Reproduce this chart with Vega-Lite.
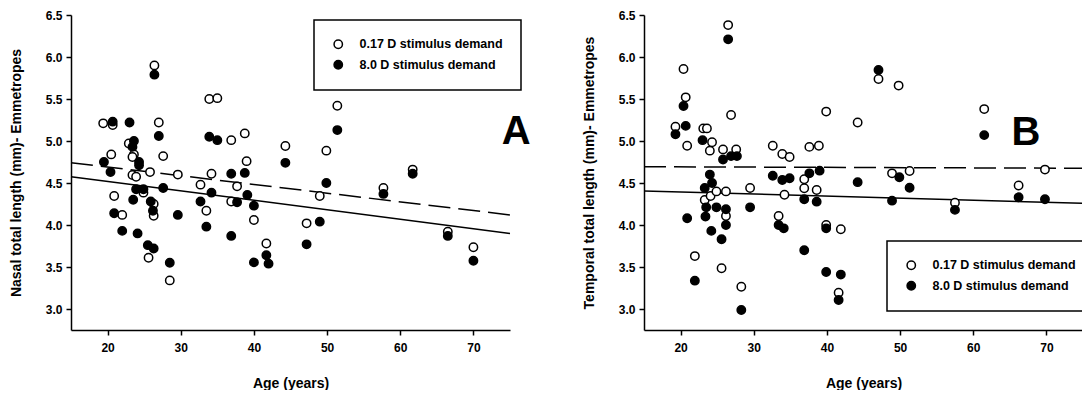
{
  "$schema": "https://vega.github.io/schema/vega-lite/v6.json",
  "background": "white",
  "padding": {"left": 9, "top": 9, "right": 0, "bottom": 0},
  "spacing": 51,
  "config": {
    "view": {"stroke": null},
    "font": "Liberation Sans",
    "axis": {
      "grid": false,
      "domainColor": "black", "domainWidth": 1.5,
      "tickColor": "black", "tickWidth": 1.5, "tickSize": 5,
      "labelFont": "Liberation Sans", "labelFontWeight": "bold", "labelFontSize": 12, "labelColor": "black",
      "titleFont": "Liberation Sans", "titleFontWeight": "bold", "titleFontSize": 14, "titleColor": "black"
    },
    "axisX": {"labelPadding": 7, "titlePadding": 23},
    "axisY": {"labelPadding": 4, "titlePadding": 22},
    "legend": {
      "strokeColor": "black", "strokeWidth": 1.5, "fillColor": "white", "padding": 18,
      "symbolType": "circle", "symbolSize": 70, "symbolStrokeColor": "black", "symbolStrokeWidth": 1.5,
      "labelFont": "Liberation Sans", "labelFontWeight": "bold", "labelFontSize": 12.5, "labelColor": "black",
      "labelOffset": 15, "rowPadding": 5.5, "labelLimit": 300
    }
  },
  "resolve": {"scale": {"fill": "independent"}, "legend": {"fill": "independent"}},
  "datasets": {
    "nasal": [
      {"age":19.4,"length":5.21,"demand":"0.17 D stimulus demand"},
      {"age":20.7,"length":5.19,"demand":"0.17 D stimulus demand"},
      {"age":20.5,"length":4.84,"demand":"0.17 D stimulus demand"},
      {"age":20.9,"length":4.345,"demand":"0.17 D stimulus demand"},
      {"age":22.0,"length":4.12,"demand":"0.17 D stimulus demand"},
      {"age":22.9,"length":4.97,"demand":"0.17 D stimulus demand"},
      {"age":23.6,"length":4.84,"demand":"0.17 D stimulus demand"},
      {"age":23.4,"length":4.81,"demand":"0.17 D stimulus demand"},
      {"age":23.4,"length":4.595,"demand":"0.17 D stimulus demand"},
      {"age":23.9,"length":4.575,"demand":"0.17 D stimulus demand"},
      {"age":24.9,"length":4.385,"demand":"0.17 D stimulus demand"},
      {"age":25.6,"length":3.61,"demand":"0.17 D stimulus demand"},
      {"age":25.8,"length":4.63,"demand":"0.17 D stimulus demand"},
      {"age":26.3,"length":4.25,"demand":"0.17 D stimulus demand"},
      {"age":26.3,"length":4.11,"demand":"0.17 D stimulus demand"},
      {"age":26.4,"length":5.90,"demand":"0.17 D stimulus demand"},
      {"age":27.0,"length":5.22,"demand":"0.17 D stimulus demand"},
      {"age":27.6,"length":4.82,"demand":"0.17 D stimulus demand"},
      {"age":28.5,"length":3.34,"demand":"0.17 D stimulus demand"},
      {"age":29.6,"length":4.60,"demand":"0.17 D stimulus demand"},
      {"age":32.7,"length":4.48,"demand":"0.17 D stimulus demand"},
      {"age":33.5,"length":4.17,"demand":"0.17 D stimulus demand"},
      {"age":33.9,"length":5.50,"demand":"0.17 D stimulus demand"},
      {"age":34.2,"length":4.61,"demand":"0.17 D stimulus demand"},
      {"age":35.0,"length":5.51,"demand":"0.17 D stimulus demand"},
      {"age":36.9,"length":5.01,"demand":"0.17 D stimulus demand"},
      {"age":36.9,"length":4.28,"demand":"0.17 D stimulus demand"},
      {"age":37.7,"length":4.46,"demand":"0.17 D stimulus demand"},
      {"age":38.75,"length":5.09,"demand":"0.17 D stimulus demand"},
      {"age":39.0,"length":4.76,"demand":"0.17 D stimulus demand"},
      {"age":40.0,"length":4.06,"demand":"0.17 D stimulus demand"},
      {"age":41.7,"length":3.78,"demand":"0.17 D stimulus demand"},
      {"age":44.3,"length":4.94,"demand":"0.17 D stimulus demand"},
      {"age":47.2,"length":4.02,"demand":"0.17 D stimulus demand"},
      {"age":49.0,"length":4.345,"demand":"0.17 D stimulus demand"},
      {"age":49.9,"length":4.885,"demand":"0.17 D stimulus demand"},
      {"age":51.4,"length":5.42,"demand":"0.17 D stimulus demand"},
      {"age":57.7,"length":4.44,"demand":"0.17 D stimulus demand"},
      {"age":61.7,"length":4.66,"demand":"0.17 D stimulus demand"},
      {"age":66.5,"length":3.92,"demand":"0.17 D stimulus demand"},
      {"age":70.0,"length":3.735,"demand":"0.17 D stimulus demand"},
      {"age":19.5,"length":4.75,"demand":"8.0 D stimulus demand"},
      {"age":20.4,"length":4.63,"demand":"8.0 D stimulus demand"},
      {"age":20.7,"length":5.23,"demand":"8.0 D stimulus demand"},
      {"age":20.9,"length":4.14,"demand":"8.0 D stimulus demand"},
      {"age":22.0,"length":3.93,"demand":"8.0 D stimulus demand"},
      {"age":23.0,"length":5.22,"demand":"8.0 D stimulus demand"},
      {"age":23.4,"length":4.93,"demand":"8.0 D stimulus demand"},
      {"age":23.5,"length":4.30,"demand":"8.0 D stimulus demand"},
      {"age":23.6,"length":5.0,"demand":"8.0 D stimulus demand"},
      {"age":23.9,"length":4.425,"demand":"8.0 D stimulus demand"},
      {"age":24.1,"length":3.90,"demand":"8.0 D stimulus demand"},
      {"age":24.3,"length":4.75,"demand":"8.0 D stimulus demand"},
      {"age":24.3,"length":4.71,"demand":"8.0 D stimulus demand"},
      {"age":24.9,"length":4.425,"demand":"8.0 D stimulus demand"},
      {"age":25.5,"length":3.76,"demand":"8.0 D stimulus demand"},
      {"age":25.9,"length":4.28,"demand":"8.0 D stimulus demand"},
      {"age":26.2,"length":4.17,"demand":"8.0 D stimulus demand"},
      {"age":26.3,"length":3.72,"demand":"8.0 D stimulus demand"},
      {"age":26.4,"length":5.79,"demand":"8.0 D stimulus demand"},
      {"age":27.0,"length":5.06,"demand":"8.0 D stimulus demand"},
      {"age":27.6,"length":4.44,"demand":"8.0 D stimulus demand"},
      {"age":28.5,"length":3.55,"demand":"8.0 D stimulus demand"},
      {"age":29.6,"length":4.12,"demand":"8.0 D stimulus demand"},
      {"age":32.7,"length":4.28,"demand":"8.0 D stimulus demand"},
      {"age":33.5,"length":3.98,"demand":"8.0 D stimulus demand"},
      {"age":33.9,"length":5.05,"demand":"8.0 D stimulus demand"},
      {"age":34.2,"length":4.385,"demand":"8.0 D stimulus demand"},
      {"age":35.0,"length":5.01,"demand":"8.0 D stimulus demand"},
      {"age":36.9,"length":4.61,"demand":"8.0 D stimulus demand"},
      {"age":36.9,"length":3.87,"demand":"8.0 D stimulus demand"},
      {"age":37.7,"length":4.27,"demand":"8.0 D stimulus demand"},
      {"age":38.75,"length":4.62,"demand":"8.0 D stimulus demand"},
      {"age":39.1,"length":4.357,"demand":"8.0 D stimulus demand"},
      {"age":40.0,"length":4.23,"demand":"8.0 D stimulus demand"},
      {"age":40.0,"length":3.555,"demand":"8.0 D stimulus demand"},
      {"age":41.7,"length":3.64,"demand":"8.0 D stimulus demand"},
      {"age":42.0,"length":3.54,"demand":"8.0 D stimulus demand"},
      {"age":44.3,"length":4.74,"demand":"8.0 D stimulus demand"},
      {"age":47.2,"length":3.77,"demand":"8.0 D stimulus demand"},
      {"age":49.0,"length":4.04,"demand":"8.0 D stimulus demand"},
      {"age":49.9,"length":4.50,"demand":"8.0 D stimulus demand"},
      {"age":51.4,"length":5.13,"demand":"8.0 D stimulus demand"},
      {"age":57.7,"length":4.37,"demand":"8.0 D stimulus demand"},
      {"age":61.7,"length":4.61,"demand":"8.0 D stimulus demand"},
      {"age":66.5,"length":3.87,"demand":"8.0 D stimulus demand"},
      {"age":70.0,"length":3.575,"demand":"8.0 D stimulus demand"}
    ],
    "temporal": [
      {"age":19.3,"length":5.17,"demand":"0.17 D stimulus demand"},
      {"age":20.4,"length":5.857,"demand":"0.17 D stimulus demand"},
      {"age":20.7,"length":5.52,"demand":"0.17 D stimulus demand"},
      {"age":20.9,"length":4.944,"demand":"0.17 D stimulus demand"},
      {"age":21.95,"length":3.63,"demand":"0.17 D stimulus demand"},
      {"age":23.1,"length":5.15,"demand":"0.17 D stimulus demand"},
      {"age":23.3,"length":4.298,"demand":"0.17 D stimulus demand"},
      {"age":23.6,"length":5.15,"demand":"0.17 D stimulus demand"},
      {"age":24.0,"length":4.885,"demand":"0.17 D stimulus demand"},
      {"age":24.1,"length":4.345,"demand":"0.17 D stimulus demand"},
      {"age":24.3,"length":4.985,"demand":"0.17 D stimulus demand"},
      {"age":24.9,"length":4.40,"demand":"0.17 D stimulus demand"},
      {"age":25.6,"length":3.485,"demand":"0.17 D stimulus demand"},
      {"age":25.8,"length":4.90,"demand":"0.17 D stimulus demand"},
      {"age":26.2,"length":4.40,"demand":"0.17 D stimulus demand"},
      {"age":26.2,"length":4.107,"demand":"0.17 D stimulus demand"},
      {"age":26.5,"length":6.38,"demand":"0.17 D stimulus demand"},
      {"age":26.9,"length":5.31,"demand":"0.17 D stimulus demand"},
      {"age":27.6,"length":4.90,"demand":"0.17 D stimulus demand"},
      {"age":28.3,"length":3.265,"demand":"0.17 D stimulus demand"},
      {"age":29.5,"length":4.44,"demand":"0.17 D stimulus demand"},
      {"age":32.6,"length":4.944,"demand":"0.17 D stimulus demand"},
      {"age":33.4,"length":4.107,"demand":"0.17 D stimulus demand"},
      {"age":33.9,"length":4.845,"demand":"0.17 D stimulus demand"},
      {"age":34.2,"length":4.36,"demand":"0.17 D stimulus demand"},
      {"age":34.9,"length":4.81,"demand":"0.17 D stimulus demand"},
      {"age":36.9,"length":4.544,"demand":"0.17 D stimulus demand"},
      {"age":36.9,"length":4.437,"demand":"0.17 D stimulus demand"},
      {"age":37.6,"length":4.93,"demand":"0.17 D stimulus demand"},
      {"age":38.6,"length":4.417,"demand":"0.17 D stimulus demand"},
      {"age":38.9,"length":4.944,"demand":"0.17 D stimulus demand"},
      {"age":39.9,"length":5.35,"demand":"0.17 D stimulus demand"},
      {"age":39.9,"length":4.0,"demand":"0.17 D stimulus demand"},
      {"age":41.6,"length":3.194,"demand":"0.17 D stimulus demand"},
      {"age":41.9,"length":3.95,"demand":"0.17 D stimulus demand"},
      {"age":44.2,"length":5.22,"demand":"0.17 D stimulus demand"},
      {"age":47.05,"length":5.738,"demand":"0.17 D stimulus demand"},
      {"age":48.9,"length":4.615,"demand":"0.17 D stimulus demand"},
      {"age":49.8,"length":5.66,"demand":"0.17 D stimulus demand"},
      {"age":51.3,"length":4.643,"demand":"0.17 D stimulus demand"},
      {"age":57.5,"length":4.265,"demand":"0.17 D stimulus demand"},
      {"age":61.5,"length":5.38,"demand":"0.17 D stimulus demand"},
      {"age":66.2,"length":4.47,"demand":"0.17 D stimulus demand"},
      {"age":69.8,"length":4.66,"demand":"0.17 D stimulus demand"},
      {"age":19.3,"length":5.08,"demand":"8.0 D stimulus demand"},
      {"age":20.4,"length":5.417,"demand":"8.0 D stimulus demand"},
      {"age":20.7,"length":5.18,"demand":"8.0 D stimulus demand"},
      {"age":20.9,"length":4.08,"demand":"8.0 D stimulus demand"},
      {"age":21.95,"length":3.337,"demand":"8.0 D stimulus demand"},
      {"age":23.0,"length":5.01,"demand":"8.0 D stimulus demand"},
      {"age":23.3,"length":4.44,"demand":"8.0 D stimulus demand"},
      {"age":23.4,"length":4.10,"demand":"8.0 D stimulus demand"},
      {"age":23.5,"length":4.21,"demand":"8.0 D stimulus demand"},
      {"age":24.0,"length":4.60,"demand":"8.0 D stimulus demand"},
      {"age":24.2,"length":3.93,"demand":"8.0 D stimulus demand"},
      {"age":24.3,"length":4.50,"demand":"8.0 D stimulus demand"},
      {"age":24.9,"length":4.21,"demand":"8.0 D stimulus demand"},
      {"age":25.6,"length":3.83,"demand":"8.0 D stimulus demand"},
      {"age":25.8,"length":4.78,"demand":"8.0 D stimulus demand"},
      {"age":26.2,"length":4.187,"demand":"8.0 D stimulus demand"},
      {"age":26.2,"length":4.0,"demand":"8.0 D stimulus demand"},
      {"age":26.5,"length":6.21,"demand":"8.0 D stimulus demand"},
      {"age":26.9,"length":4.82,"demand":"8.0 D stimulus demand"},
      {"age":27.7,"length":4.82,"demand":"8.0 D stimulus demand"},
      {"age":28.3,"length":2.988,"demand":"8.0 D stimulus demand"},
      {"age":29.5,"length":4.21,"demand":"8.0 D stimulus demand"},
      {"age":32.6,"length":4.587,"demand":"8.0 D stimulus demand"},
      {"age":33.4,"length":4.0,"demand":"8.0 D stimulus demand"},
      {"age":33.9,"length":4.536,"demand":"8.0 D stimulus demand"},
      {"age":34.1,"length":3.96,"demand":"8.0 D stimulus demand"},
      {"age":34.9,"length":4.556,"demand":"8.0 D stimulus demand"},
      {"age":36.9,"length":4.306,"demand":"8.0 D stimulus demand"},
      {"age":36.9,"length":3.70,"demand":"8.0 D stimulus demand"},
      {"age":37.6,"length":4.615,"demand":"8.0 D stimulus demand"},
      {"age":38.6,"length":4.278,"demand":"8.0 D stimulus demand"},
      {"age":39.0,"length":4.647,"demand":"8.0 D stimulus demand"},
      {"age":39.9,"length":3.96,"demand":"8.0 D stimulus demand"},
      {"age":39.9,"length":3.44,"demand":"8.0 D stimulus demand"},
      {"age":41.6,"length":3.107,"demand":"8.0 D stimulus demand"},
      {"age":41.9,"length":3.41,"demand":"8.0 D stimulus demand"},
      {"age":44.2,"length":4.51,"demand":"8.0 D stimulus demand"},
      {"age":47.05,"length":5.845,"demand":"8.0 D stimulus demand"},
      {"age":48.9,"length":4.29,"demand":"8.0 D stimulus demand"},
      {"age":49.9,"length":4.568,"demand":"8.0 D stimulus demand"},
      {"age":51.3,"length":4.444,"demand":"8.0 D stimulus demand"},
      {"age":57.5,"length":4.18,"demand":"8.0 D stimulus demand"},
      {"age":61.5,"length":5.07,"demand":"8.0 D stimulus demand"},
      {"age":66.2,"length":4.33,"demand":"8.0 D stimulus demand"},
      {"age":69.8,"length":4.306,"demand":"8.0 D stimulus demand"}
    ],
    "fitsA": [
      {"age":15,"length":4.575,"fit":"solid"},
      {"age":75,"length":3.90,"fit":"solid"},
      {"age":15,"length":4.742,"fit":"dashed"},
      {"age":75,"length":4.12,"fit":"dashed"}
    ],
    "fitsB": [
      {"age":15,"length":4.405,"fit":"solid"},
      {"age":75,"length":4.258,"fit":"solid"},
      {"age":15,"length":4.694,"fit":"dashed"},
      {"age":75,"length":4.675,"fit":"dashed"}
    ],
    "letterA": [{"age":75.85,"length":5.107,"letter":"A"}],
    "letterB": [{"age":67.2,"length":5.095,"letter":"B"}]
  },
  "hconcat": [
    {
      "width": 439,
      "height": 315,
      "layer": [
        {
          "data": {"name": "fitsA"},
          "transform": [{"filter": {"field": "fit", "equal": "solid"}}],
          "mark": {"type": "line", "color": "black", "strokeWidth": 1.5},
          "encoding": {
            "x": {"field": "age", "type": "quantitative", "scale": {"domain": [15, 75], "nice": false, "zero": false},
                  "axis": {"values": [20, 30, 40, 50, 60, 70], "title": "Age (years)"}},
            "y": {"field": "length", "type": "quantitative", "scale": {"domain": [2.75, 6.5], "nice": false, "zero": false},
                  "axis": {"values": [3, 3.5, 4, 4.5, 5, 5.5, 6, 6.5], "format": ".1f", "title": "Nasal total length (mm)- Emmetropes"}}
          }
        },
        {
          "data": {"name": "fitsA"},
          "transform": [{"filter": {"field": "fit", "equal": "dashed"}}],
          "mark": {"type": "line", "color": "black", "strokeWidth": 1.5, "strokeDash": [22, 8]},
          "encoding": {
            "x": {"field": "age", "type": "quantitative"},
            "y": {"field": "length", "type": "quantitative"}
          }
        },
        {
          "data": {"name": "nasal"},
          "mark": {"type": "point", "shape": "circle", "filled": true, "size": 70, "stroke": "black", "strokeWidth": 1.5, "opacity": 1},
          "encoding": {
            "x": {"field": "age", "type": "quantitative"},
            "y": {"field": "length", "type": "quantitative"},
            "fill": {"field": "demand", "type": "nominal",
                     "scale": {"domain": ["0.17 D stimulus demand", "8.0 D stimulus demand"], "range": ["white", "black"]},
                     "legend": {"title": null, "orient": "none", "legendX": 243, "legendY": 5}}
          }
        },
        {
          "data": {"name": "letterA"},
          "mark": {"type": "text", "font": "Liberation Sans", "fontWeight": "bold", "fontSize": 40, "color": "black", "align": "center", "baseline": "middle"},
          "encoding": {
            "x": {"field": "age", "type": "quantitative"},
            "y": {"field": "length", "type": "quantitative"},
            "text": {"field": "letter"}
          }
        }
      ]
    },
    {
      "width": 439,
      "height": 315,
      "layer": [
        {
          "data": {"name": "fitsB"},
          "transform": [{"filter": {"field": "fit", "equal": "solid"}}],
          "mark": {"type": "line", "color": "black", "strokeWidth": 1.5},
          "encoding": {
            "x": {"field": "age", "type": "quantitative", "scale": {"domain": [15, 75], "nice": false, "zero": false},
                  "axis": {"values": [20, 30, 40, 50, 60, 70], "title": "Age (years)"}},
            "y": {"field": "length", "type": "quantitative", "scale": {"domain": [2.75, 6.5], "nice": false, "zero": false},
                  "axis": {"values": [3, 3.5, 4, 4.5, 5, 5.5, 6, 6.5], "format": ".1f", "title": "Temporal total length (mm)- Emmetropes"}}
          }
        },
        {
          "data": {"name": "fitsB"},
          "transform": [{"filter": {"field": "fit", "equal": "dashed"}}],
          "mark": {"type": "line", "color": "black", "strokeWidth": 1.5, "strokeDash": [22, 8]},
          "encoding": {
            "x": {"field": "age", "type": "quantitative"},
            "y": {"field": "length", "type": "quantitative"}
          }
        },
        {
          "data": {"name": "temporal"},
          "mark": {"type": "point", "shape": "circle", "filled": true, "size": 70, "stroke": "black", "strokeWidth": 1.5, "opacity": 1},
          "encoding": {
            "x": {"field": "age", "type": "quantitative"},
            "y": {"field": "length", "type": "quantitative"},
            "fill": {"field": "demand", "type": "nominal",
                     "scale": {"domain": ["0.17 D stimulus demand", "8.0 D stimulus demand"], "range": ["white", "black"]},
                     "legend": {"title": null, "orient": "none", "legendX": 243, "legendY": 226}}
          }
        },
        {
          "data": {"name": "letterB"},
          "mark": {"type": "text", "font": "Liberation Sans", "fontWeight": "bold", "fontSize": 40, "color": "black", "align": "center", "baseline": "middle"},
          "encoding": {
            "x": {"field": "age", "type": "quantitative"},
            "y": {"field": "length", "type": "quantitative"},
            "text": {"field": "letter"}
          }
        }
      ]
    }
  ]
}
